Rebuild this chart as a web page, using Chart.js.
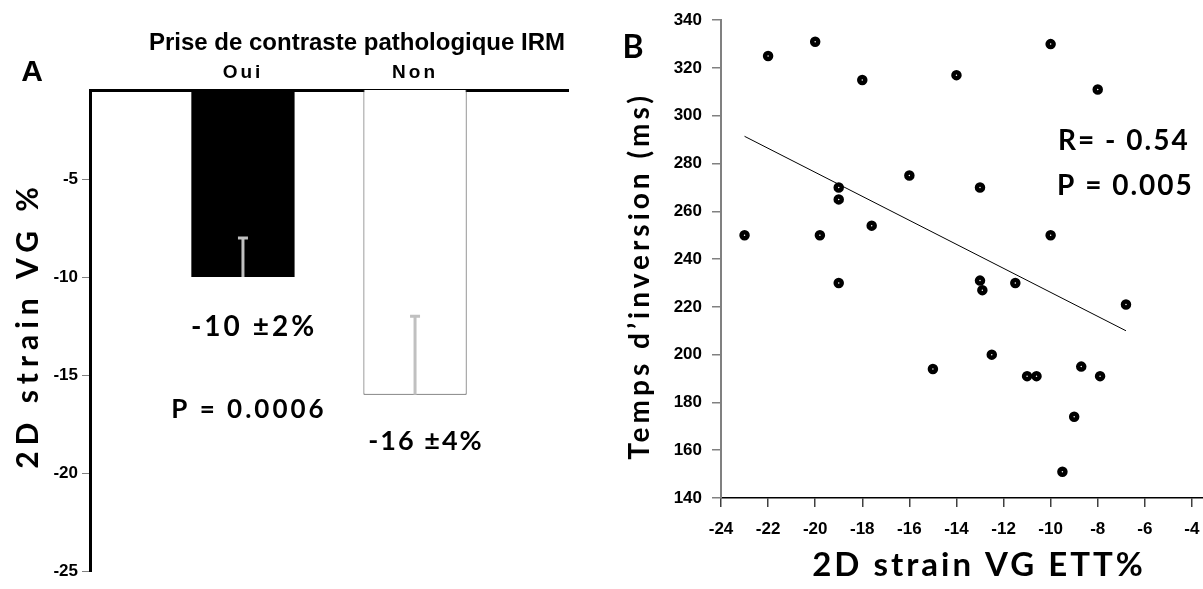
<!DOCTYPE html>
<html>
<head>
<meta charset="utf-8" />
<title>2D strain VG</title>
<script src="https://cdn.jsdelivr.net/npm/chart.js@4.4.0/dist/chart.umd.min.js"></script>
<style>
    * { margin: 0; padding: 0; box-sizing: border-box; }
    body { background: #fff; width: 1203px; height: 589px; overflow: hidden; position: relative; }
    #chartA { position: absolute; left: 0; top: 0; }
    #chartB { position: absolute; left: 590px; top: 0; }
</style>
</head>
<body>
<canvas id="chartA" width="590" height="589"></canvas>
<canvas id="chartB" width="670" height="589"></canvas>
<script>
// A : strain by contrast group (mean, sd)
const groupsA = ['Oui', 'Non'];
const strainMeans = [-10, -16];
const strainSd = [2, 4];
const yTicksA = [-25, -20, -15, -10, -5];
const pValueA = '0.0006';

// B : strain vs inversion time
const strainB = [-23, -22, -20, -18, -14, -10, -8, -19, -19, -16, -13, -19.8, -17.6, -10, -19, -13, -12.9, -11.5, -6.8, -15, -12.5, -11, -10.6, -8.7, -7.9, -9, -9.5];
const inversionB = [250, 325, 331, 315, 317, 330, 311, 270, 265, 275, 270, 250, 254, 250, 230, 231, 227, 230, 221, 194, 200, 191, 191, 195, 191, 174, 151];
const trendX = [-23, -6.8];
const trendY = [291.4, 210];
const xTicksB = [-24, -22, -20, -18, -16, -14, -12, -10, -8, -6, -4, -2];
const yTicksB = [140, 160, 180, 200, 220, 240, 260, 280, 300, 320, 340];
const rValueB = '- 0.54';
const pValueB = '0.005';

const ARIAL = '"Liberation Sans", Arial, sans-serif';
const CALI = 'Lato, "Open Sans", sans-serif';

Chart.defaults.animation = false;
Chart.defaults.color = '#000';

function text(ctx, str, x, y, font, opts) {
    opts = opts || {};
    ctx.save();
    ctx.font = font;
    ctx.fillStyle = '#000';
    ctx.letterSpacing = opts.spacing || '0px';
    ctx.textAlign = opts.align || 'center';
    ctx.textBaseline = 'middle';
    ctx.translate(x, y);
    if (opts.rotate) ctx.rotate(opts.rotate);
    ctx.fillText(str, 0, 0);
    ctx.restore();
}

const panelA = {
    id: 'panelA',
    afterDatasetsDraw(chart) {
        const ctx = chart.ctx, y = chart.scales.y;
        ctx.save();
        ctx.strokeStyle = '#c0c0c0';
        ctx.lineWidth = 3;
        chart.data.datasets.forEach((ds, i) => {
            const bar = chart.getDatasetMeta(i).data[0];
            const y0 = y.getPixelForValue(strainMeans[i]);
            const y1 = y.getPixelForValue(strainMeans[i] + strainSd[i]);
            ctx.beginPath();
            ctx.moveTo(bar.x, y0);
            ctx.lineTo(bar.x, y1);
            ctx.moveTo(bar.x - 5, y1);
            ctx.lineTo(bar.x + 5, y1);
            ctx.stroke();
        });
        ctx.restore();
    },
    afterDraw(chart) {
        const ctx = chart.ctx;
        text(ctx, 'A', 32, 73, 'bold 30px ' + ARIAL);
        text(ctx, 'Prise de contraste pathologique IRM', 357, 43, 'bold 24px ' + ARIAL);
        groupsA.forEach((g, i) => {
            const bar = chart.getDatasetMeta(i).data[0];
            text(ctx, g, bar.x, 73, 'bold 19px ' + ARIAL, { spacing: '3px' });
        });
        text(ctx, '2D strain VG %', 28, 325, 'bold 30px ' + CALI, { spacing: '6px', rotate: -Math.PI / 2 });
        text(ctx, strainMeans[0] + ' \u00b1' + strainSd[0] + '%', 254, 327, 'bold 28px ' + CALI, { spacing: '3px' });
        text(ctx, strainMeans[1] + ' \u00b1' + strainSd[1] + '%', 426, 441, 'bold 27px ' + CALI, { spacing: '2px' });
        text(ctx, 'P = ' + pValueA, 249, 410, 'bold 26px ' + CALI, { spacing: '3px' });
    }
};

new Chart(document.getElementById('chartA'), {
    type: 'bar',
    data: {
        labels: [''],
        datasets: [
            { label: groupsA[0], data: [strainMeans[0]], backgroundColor: '#000', borderWidth: 0 },
            { label: groupsA[1], data: [strainMeans[1]], backgroundColor: '#fff', borderColor: '#404040', borderWidth: 1 }
        ]
    },
    options: {
        responsive: false,
        devicePixelRatio: 1,
        categoryPercentage: 0.72,
        barPercentage: 0.6,
        layout: { padding: { left: 0, right: 22, top: 90, bottom: 18 } },
        plugins: { legend: { display: false }, tooltip: { enabled: false } },
        scales: {
            x: {
                position: 'top',
                grid: { display: false },
                border: { color: '#000', width: 3 },
                ticks: { display: false },
                afterFit: s => { s.height = 0; }
            },
            y: {
                min: -25,
                max: -0.45,
                afterBuildTicks: s => { s.ticks = yTicksA.map(v => ({ value: v })); },
                grid: { drawOnChartArea: false, tickLength: 8, color: '#808080' },
                border: { color: '#000', width: 3 },
                ticks: { font: { family: ARIAL, weight: 'bold', size: 17 }, padding: 4 },
                afterFit: s => { s.width = 90; }
            }
        }
    },
    plugins: [panelA]
});

const panelB = {
    id: 'panelB',
    afterDraw(chart) {
        const ctx = chart.ctx;
        text(ctx, 'B', 43, 48, 'bold 32px ' + CALI);
        text(ctx, 'Temps d\u2019inversion (ms)', 50, 276, 'bold 28px ' + CALI, { spacing: '4px', rotate: -Math.PI / 2 });
        text(ctx, '2D strain VG ETT%', 389, 565, 'bold 33px ' + CALI, { spacing: '3px' });
        text(ctx, 'R= ' + rValueB, 468, 141, 'bold 28px ' + CALI, { spacing: '2px', align: 'left' });
        text(ctx, 'P = ' + pValueB, 467, 186, 'bold 28px ' + CALI, { spacing: '2px', align: 'left' });
    }
};

new Chart(document.getElementById('chartB'), {
    type: 'scatter',
    data: {
        datasets: [
            {
                data: strainB.map((x, i) => ({ x: x, y: inversionB[i] })),
                pointRadius: 3,
                pointBorderWidth: 4.5,
                pointBorderColor: '#000',
                pointBackgroundColor: '#fff'
            },
            {
                data: trendX.map((x, i) => ({ x: x, y: trendY[i] })),
                showLine: true,
                borderColor: '#000',
                borderWidth: 1,
                pointRadius: 0
            }
        ]
    },
    options: {
        responsive: false,
        devicePixelRatio: 1,
        layout: { padding: { left: 0, right: 21, top: 18, bottom: 0 } },
        plugins: { legend: { display: false }, tooltip: { enabled: false } },
        scales: {
            x: {
                type: 'linear',
                min: -24,
                max: -2,
                afterBuildTicks: s => { s.ticks = xTicksB.map(v => ({ value: v })); },
                grid: { drawOnChartArea: false, tickLength: 9, color: '#404040', lineWidth: 1.5 },
                border: { color: '#000', width: 1.5 },
                ticks: { font: { family: ARIAL, weight: 'bold', size: 17 }, padding: 12, maxRotation: 0 },
                afterFit: s => { s.height = 91; }
            },
            y: {
                min: 140,
                max: 340,
                afterBuildTicks: s => { s.ticks = yTicksB.map(v => ({ value: v })); },
                grid: { drawOnChartArea: false, tickLength: 9, color: '#808080', lineWidth: 1.5 },
                border: { color: '#808080', width: 2 },
                ticks: { font: { family: ARIAL, weight: 'bold', size: 17 }, padding: 10 },
                afterFit: s => { s.width = 131; }
            }
        }
    },
    plugins: [panelB]
});
</script>
</body>
</html>
